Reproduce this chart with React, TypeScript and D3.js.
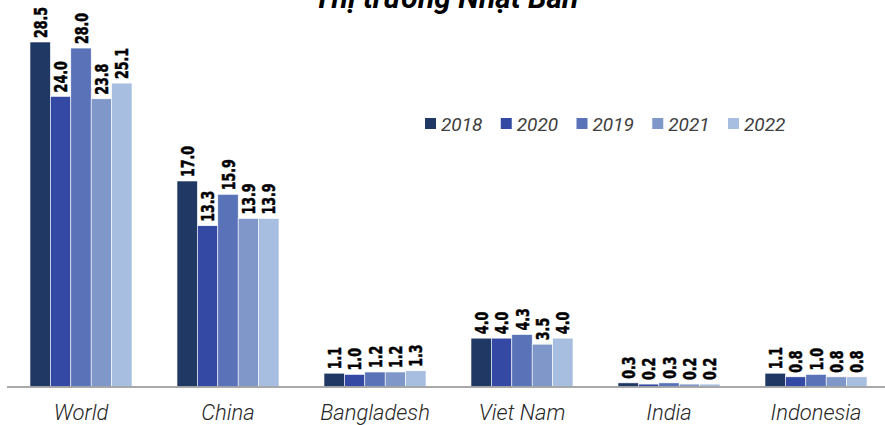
import React from "react";
import * as d3 from "d3";

const categories = ["World", "China", "Bangladesh", "Viet Nam", "India", "Indonesia"];
const seriesNames = ["2018", "2020", "2019", "2021", "2022"];
const values2018 = [28.5, 17.0, 1.1, 4.0, 0.3, 1.1];
const values2020 = [24.0, 13.3, 1.0, 4.0, 0.2, 0.8];
const values2019 = [28.0, 15.9, 1.2, 4.3, 0.3, 1.0];
const values2021 = [23.8, 13.9, 1.2, 3.5, 0.2, 0.8];
const values2022 = [25.1, 13.9, 1.3, 4.0, 0.2, 0.8];
const seriesValues = [values2018, values2020, values2019, values2021, values2022];
const colors = ["#1f3864", "#3349a3", "#5a72b8", "#7f97c9", "#a8bee0"];
const title = "Thị trường Nhật Bản";

const W = 885;
const H = 425;

export default function App() {
  const baseY = 386.5;
  const x0 = d3
    .scaleBand<string>()
    .domain(categories)
    .range([7.5, 889.5])
    .paddingInner(0.306)
    .paddingOuter(0.153);
  const x1 = d3.scaleBand<string>().domain(seriesNames).range([0, x0.bandwidth()]).padding(0);
  const y = d3.scaleLinear().domain([0, 28.5]).range([baseY, 42]);

  const legendX = d3.scalePoint<string>().domain(seriesNames).range([425, 728]);

  return (
    <svg width={W} height={H} style={{ display: "block", position: "absolute", left: 0, top: 0 }}>
      <text
        x={446}
        y={8}
        textAnchor="middle"
        fontFamily="Roboto, sans-serif"
        fontStyle="italic"
        fontWeight={700}
        fontSize={30}
        fill="#000"
      >
        {title}
      </text>
      {categories.map((c, ci) => (
        <g key={c} transform={`translate(${x0(c)},0)`}>
          {seriesNames.map((s, si) => {
            const v = seriesValues[si][ci];
            const bx = x1(s)!;
            const bw = x1.bandwidth();
            const top = y(v);
            return (
              <g key={s}>
                <rect x={bx} y={top} width={bw} height={baseY - top} fill={colors[si]} stroke="#fff" strokeWidth={0.6} />
                <text
                  transform={`translate(${bx + bw / 2 + 6.5},${top - 4}) rotate(-90) scale(0.78,1)`}
                  fontFamily="'DejaVu Sans Condensed', 'DejaVu Sans', sans-serif"
                  fontWeight={700}
                  fontSize={18}
                  fill="#000"
                  stroke="#000"
                  strokeWidth={0.5}
                >
                  {v.toFixed(1)}
                </text>
              </g>
            );
          })}
          <text
            x={x0.bandwidth() / 2}
            y={420}
            textAnchor="middle"
            fontFamily="Roboto, sans-serif"
            fontStyle="italic"
            fontWeight={300}
            fontSize={22}
            fill="#262626"
          >
            {c}
          </text>
        </g>
      ))}
      <line x1={7} x2={W} y1={baseY + 0.5} y2={baseY + 0.5} stroke="#8c8c8c" strokeWidth={1.5} />
      {seriesNames.map((s, si) => (
        <g key={s} transform={`translate(${legendX(s)},0)`}>
          <rect x={0} y={118} width={11} height={11} fill={colors[si]} />
          <text
            x={16}
            y={131}
            fontFamily="Roboto, sans-serif"
            fontStyle="italic"
            fontSize={19}
            fill="#404040"
          >
            {s}
          </text>
        </g>
      ))}
    </svg>
  );
}
